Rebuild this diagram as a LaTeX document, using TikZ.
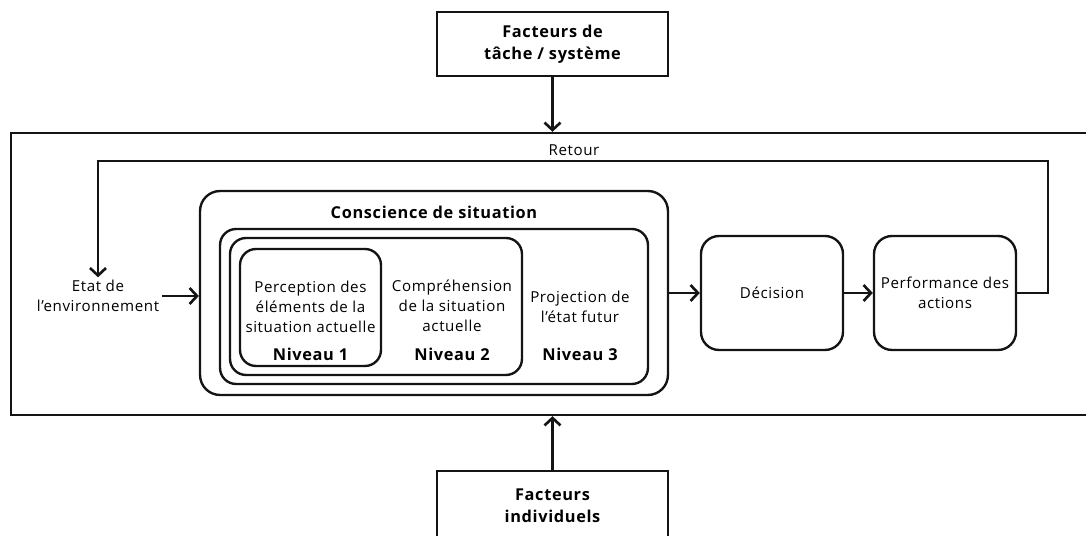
\documentclass[tikz,border=0pt]{standalone}
\usepackage{fontspec}
\setmainfont{Open Sans}[LetterSpace=4]
\usetikzlibrary{arrows.meta, positioning}
\definecolor{lineBlack}{gray}{0.08}

\begin{document}
\begin{tikzpicture}[x=0.02cm, y=-0.02cm, line width=1.35pt, lineBlack,
    font=\fontsize{8.6}{11.3}\selectfont,
    facteur/.style={draw, text=black, font=\fontsize{9.3}{12.3}\selectfont\bfseries, align=center, minimum width=4.62cm},
    niveau/.style={draw, rounded corners=0.32cm},
    etape/.style={draw, rounded corners=0.36cm, text=black, align=center, minimum width=2.84cm, minimum height=2.28cm, inner sep=1pt},
    label/.style={text=black, align=center, inner sep=1pt},
    gras/.style={label, font=\fontsize{9.3}{12}\selectfont\bfseries},
    fleche/.style={-{Straight Barb[length=1.5mm, width=3.2mm, line width=1.5pt]}}]
    \useasboundingbox (0,0) rectangle (1086,536);

    % facteurs externes et cadre du systeme
    \node[facteur, minimum height=1.28cm] (tache) at (552.5,44) {Facteurs de\\tâche / système};
    \node[facteur, minimum height=1.38cm] (indiv) at (552.5,505.5) {Facteurs\\individuels};
    \node[draw, minimum width=21.62cm, minimum height=5.64cm] (systeme) at (551.5,274) {};

    % conscience de situation et ses trois niveaux
    \node[niveau, rounded corners=0.4cm, minimum width=9.36cm, minimum height=4.08cm] (sa) at (434,293) {};
    \node[gras] (saTitre) at (434,212) {Conscience de situation};
    \node[niveau, minimum width=8.56cm, minimum height=3.1cm] (n3) at (434,306.5) {};
    \node[niveau, minimum width=5.84cm, minimum height=2.74cm] (n2) at (376,306.5) {};
    \node[niveau, minimum width=2.82cm, minimum height=2.34cm] (n1) at (310.5,307.5) {};
    \node[label] (perception) at (310.5,307) {Perception des\\éléments de la\\situation actuelle};
    \node[label] (comprehension) at (452,306) {Compréhension\\de la situation\\actuelle};
    \node[label] (projection) at (580,307) {Projection de\\l’état futur};
    \foreach \n/\x in {1/310.5, 2/452, 3/580} {
        \node[gras] (niv-\n) at (\x,354) {Niveau \n};
    }

    % boucle decision - action
    \node[label] (env) at (98,296) {Etat de\\l’environnement};
    \node[etape] (decision) at (772,293) {Décision};
    \node[etape] (perf) at (945,293) {Performance des\\actions};
    \node[label] (retour) at (574,150) {Retour};
    \coordinate (retourD) at (1048,161);
    \coordinate (retourG) at (98,161);

    \draw[fleche] (tache) -- (tache |- systeme.north);
    \draw[fleche] (indiv) -- (indiv |- systeme.south);
    \draw[fleche] (env.east) -- (sa.west |- env.east);
    \draw[fleche] (sa.east) -- (decision.west);
    \draw[fleche] (decision) -- (perf);
    \draw[fleche] (perf.east) -| (retourD) -- (retourG) -- (env.north);
\end{tikzpicture}
\end{document}
